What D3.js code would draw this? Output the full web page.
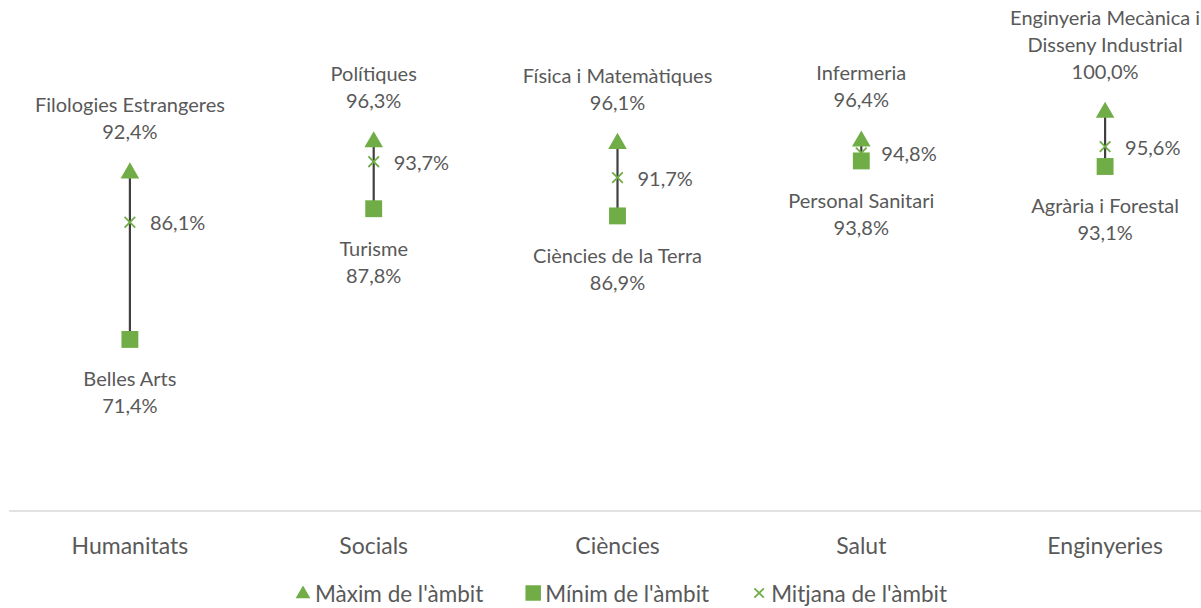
<!DOCTYPE html>
<html>
<head>
<meta charset="utf-8"/>
<title>Àmbits - màxim, mínim i mitjana</title>
<style>
  body, html {margin:0;padding:0;background:#fff;overflow:hidden;}
  text {font-family:"Lato","Liberation Sans",sans-serif;fill:#595959;}
</style>
<script src="https://cdn.jsdelivr.net/npm/d3@7/dist/d3.min.js"></script>
</head>
<body>
<svg id="chart" width="1201" height="608"></svg>
<script>
// dades
var categories = ["Humanitats", "Socials", "Ciències", "Salut", "Enginyeries"];
var maxNames = ["Filologies Estrangeres", "Polítiques", "Física i Matemàtiques", "Infermeria", "Enginyeria Mecànica i Disseny Industrial"];
var maxValues = [92.4, 96.3, 96.1, 96.4, 100.0];
var minNames = ["Belles Arts", "Turisme", "Ciències de la Terra", "Personal Sanitari", "Agrària i Forestal"];
var minValues = [71.4, 87.8, 86.9, 93.8, 93.1];
var meanValues = [86.1, 93.7, 91.7, 94.8, 95.6];
var legendLabels = ["Màxim de l'àmbit", "Mínim de l'àmbit", "Mitjana de l'àmbit"];

var green = "#70ad47";
var fmt = function (v) { return v.toFixed(1).replace(".", ",") + "%"; };

var svg = d3.select("#chart");
var W = 1201;
var fsLabel = "20px", fsCat = "23px", fsLeg = "22.5px";

var x = d3.scaleBand().domain(categories).range([8, 1227]);
var y = d3.scaleLinear().domain([50, 100]).range([510, 111.5]);
var cx = function (c) { return x(c) + x.bandwidth() / 2; };

var rows = categories.map(function (c, i) {
  return {cat: c, maxName: maxNames[i], max: maxValues[i], minName: minNames[i], min: minValues[i], mean: meanValues[i]};
});

// eix horitzontal
svg.append("line")
  .attr("x1", 9).attr("x2", W)
  .attr("y1", y(50) + 1).attr("y2", y(50) + 1)
  .attr("stroke", "#d9d9d9").attr("stroke-width", 1.5);

svg.selectAll("text.cat").data(categories).enter()
  .append("text").attr("class", "cat")
  .attr("x", cx).attr("y", 545)
  .attr("text-anchor", "middle").attr("dominant-baseline", "central")
  .style("font-size", fsCat)
  .text(function (d) { return d; });

// linies max-min
svg.selectAll("line.hl").data(rows).enter()
  .append("line").attr("class", "hl")
  .attr("x1", function (d) { return cx(d.cat); })
  .attr("x2", function (d) { return cx(d.cat); })
  .attr("y1", function (d) { return y(d.max); })
  .attr("y2", function (d) { return y(d.min); })
  .attr("stroke", "#404040").attr("stroke-width", 2.2);

var tri = d3.symbol().type(d3.symbolTriangle).size(150);
var sq = d3.symbol().type(d3.symbolSquare).size(285);
var cross = d3.symbol().type(d3.symbolX).size(75);

svg.selectAll("path.mx").data(rows).enter()
  .append("path").attr("class", "mx")
  .attr("d", tri)
  .attr("transform", function (d) { return "translate(" + cx(d.cat) + "," + (y(d.max) + 1) + ")"; })
  .attr("fill", green);

svg.selectAll("path.mn").data(rows).enter()
  .append("path").attr("class", "mn")
  .attr("d", sq)
  .attr("transform", function (d) { return "translate(" + cx(d.cat) + "," + y(d.min) + ")"; })
  .attr("fill", green);

svg.selectAll("path.md").data(rows).enter()
  .append("path").attr("class", "md")
  .attr("d", cross)
  .attr("transform", function (d) { return "translate(" + cx(d.cat) + "," + y(d.mean) + ")"; })
  .attr("fill", "none").attr("stroke", green).attr("stroke-width", 1.8);

// etiquetes
function wrap(str, maxW) {
  var tmp = svg.append("text").style("font-size", fsLabel);
  var words = str.split(" "), lines = [], cur = "";
  words.forEach(function (w) {
    var t = cur ? cur + " " + w : w;
    tmp.text(t);
    if (cur && tmp.node().getComputedTextLength() > maxW) { lines.push(cur); cur = w; }
    else cur = t;
  });
  lines.push(cur);
  tmp.remove();
  return lines;
}

var lh = 27;
rows.forEach(function (d) {
  var px = cx(d.cat);
  var top = wrap(d.maxName, 230).concat([fmt(d.max)]);
  var y0 = y(d.max) - 41 - (top.length - 1) * lh;
  top.forEach(function (t, k) {
    svg.append("text")
      .attr("x", px).attr("y", y0 + k * lh)
      .attr("text-anchor", "middle").attr("dominant-baseline", "central")
      .style("font-size", fsLabel).text(t);
  });
  [d.minName, fmt(d.min)].forEach(function (t, k) {
    svg.append("text")
      .attr("x", px).attr("y", y(d.min) + 39 + k * lh)
      .attr("text-anchor", "middle").attr("dominant-baseline", "central")
      .style("font-size", fsLabel).text(t);
  });
  svg.append("text")
    .attr("x", px + 20).attr("y", y(d.mean))
    .attr("dominant-baseline", "central")
    .style("font-size", fsLabel).text(fmt(d.mean));
});

// llegenda
var leg = svg.append("g");
var legSyms = [
  d3.symbol().type(d3.symbolTriangle).size(95),
  d3.symbol().type(d3.symbolSquare).size(240),
  d3.symbol().type(d3.symbolX).size(60)
];
var gap = 42;
var lx = 0;
legendLabels.forEach(function (lab, i) {
  var g = leg.append("g").attr("transform", "translate(" + lx + ",0)");
  var p = g.append("path").attr("d", legSyms[i]).attr("transform", "translate(8," + (i === 0 ? 1 : 0) + ")");
  if (i === 2) p.attr("fill", "none").attr("stroke", green).attr("stroke-width", 1.8);
  else p.attr("fill", green);
  var t = g.append("text").attr("x", 20).attr("y", 0)
    .attr("dominant-baseline", "central").style("font-size", fsLeg).text(lab);
  lx += 20 + t.node().getComputedTextLength() + gap;
});
var legW = lx - gap;
leg.attr("transform", "translate(" + (621 - legW / 2) + ",593)");
</script>
</body>
</html>
